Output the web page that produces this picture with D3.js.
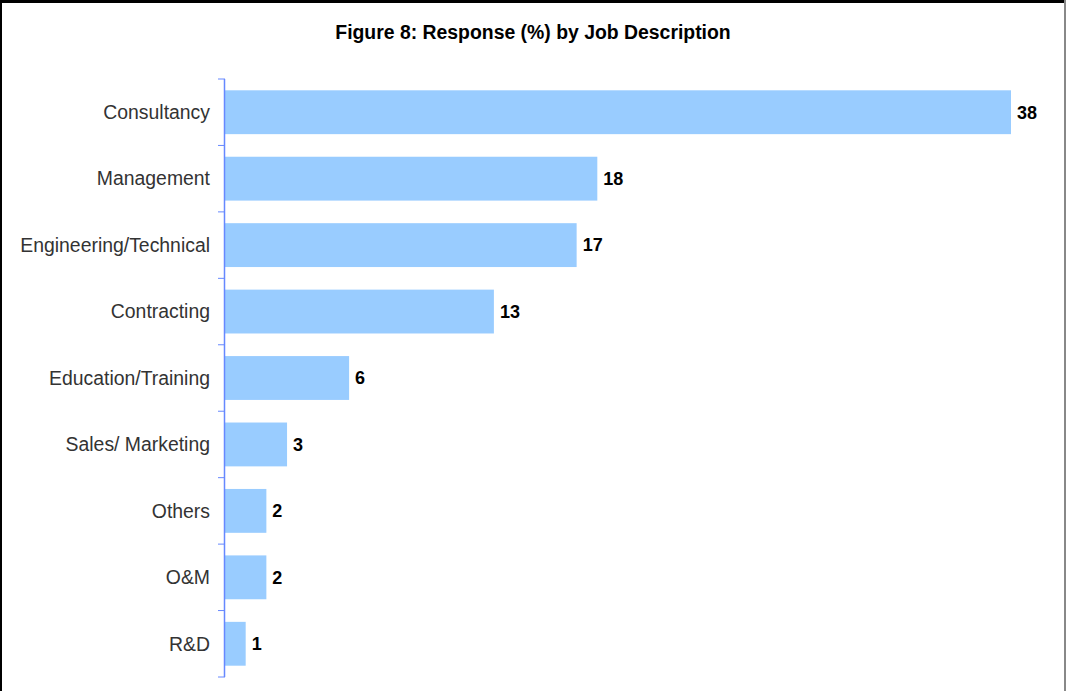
<!DOCTYPE html>
<html><head><meta charset="utf-8">
<script src="https://cdn.jsdelivr.net/npm/d3@7"></script>
<style>html,body{margin:0;padding:0;background:#fff;}svg{display:block;}</style>
</head><body>
<script>
const categories = ["Consultancy","Management","Engineering/Technical","Contracting","Education/Training","Sales/ Marketing","Others","O&M","R&D"];
const values = [38,18,17,13,6,3,2,2,1];
const title = "Figure 8: Response (%) by Job Description";

const W = 1066, H = 691;
const svg = d3.select("body").append("svg").attr("width", W).attr("height", H);
svg.append("rect").attr("width", W).attr("height", H).attr("fill", "#fff");

// border
svg.append("line").attr("x1",0).attr("x2",W).attr("y1",1.5).attr("y2",1.5).attr("stroke","#000").attr("stroke-width",3);
svg.append("line").attr("x1",1).attr("x2",1).attr("y1",0).attr("y2",H).attr("stroke","#000").attr("stroke-width",2);
svg.append("line").attr("x1",1065).attr("x2",1065).attr("y1",0).attr("y2",H).attr("stroke","#888").attr("stroke-width",2);

svg.append("text").attr("x", 533).attr("y", 39).attr("text-anchor","middle")
  .attr("font-family","Liberation Sans, Arial, sans-serif").attr("font-weight","bold").attr("font-size",19.4)
  .attr("fill","#000").text(title);

const x = d3.scaleLinear().domain([0,40]).range([225, 225 + 40*786/38]);
const y = d3.scaleBand().domain(categories).range([79, 677]).paddingInner(0.34).paddingOuter(0.17);

svg.selectAll("rect.bar").data(values).join("rect").attr("class","bar")
  .attr("x", x(0)).attr("y", (d,i)=>y(categories[i]))
  .attr("width", d=>x(d)-x(0)).attr("height", y.bandwidth())
  .attr("fill","#99CCFF");

// axis
const axisColor = "#6688ff";
svg.append("line").attr("x1",224.5).attr("x2",224.5).attr("y1",79).attr("y2",677).attr("stroke",axisColor).attr("stroke-width",1.5);
const step = (677-79)/categories.length;
d3.range(categories.length+1).forEach(i=>{
  const yy = 79 + i*step;
  svg.append("line").attr("x1",218).attr("x2",225).attr("y1",yy).attr("y2",yy).attr("stroke",axisColor).attr("stroke-width",1);
});

svg.selectAll("text.cat").data(categories).join("text").attr("class","cat")
  .attr("x",210).attr("y",d=>y(d)+y.bandwidth()/2).attr("dy","0.35em").attr("text-anchor","end")
  .attr("font-family","Liberation Sans, Arial, sans-serif").attr("font-size",19.4).attr("fill","#333")
  .text(d=>d);

svg.selectAll("text.val").data(values).join("text").attr("class","val")
  .attr("x",d=>x(d)+6).attr("y",(d,i)=>y(categories[i])+y.bandwidth()/2).attr("dy","0.35em")
  .attr("font-family","Liberation Sans, Arial, sans-serif").attr("font-size",18).attr("font-weight","bold").attr("fill","#000")
  .text(d=>d);
</script>
</body></html>
